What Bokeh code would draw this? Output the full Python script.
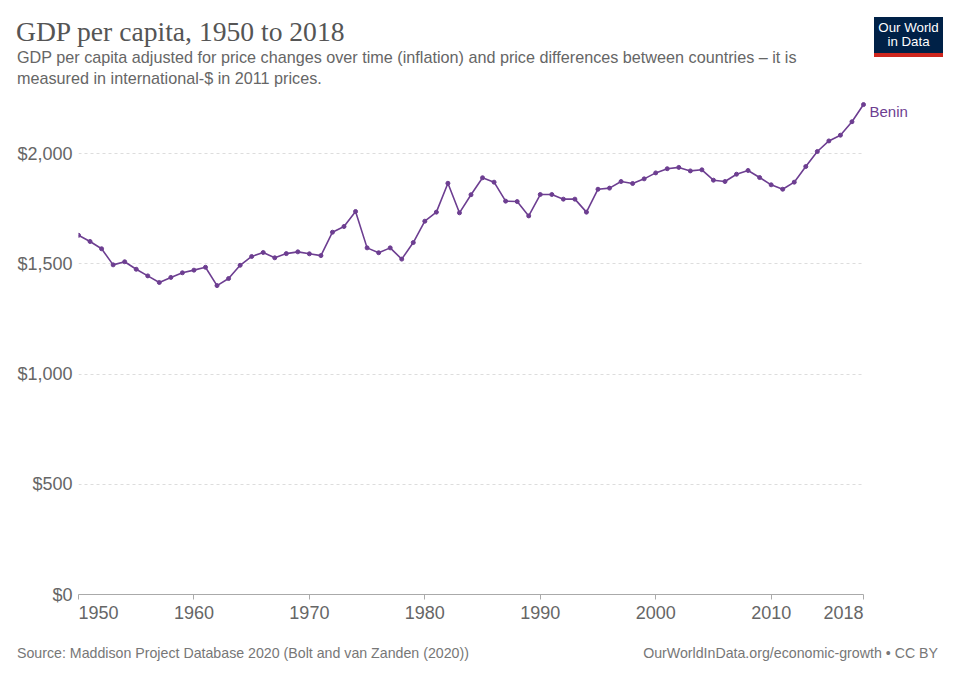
from bokeh.plotting import figure
from bokeh.layouts import column
from bokeh.models import (Range1d, FixedTicker, NumeralTickFormatter, ColumnDataSource,
                          Grid, Div)
from bokeh.core.properties import value
from bokeh.embed import file_html
from bokeh.resources import INLINE

# GDP per capita, Benin (international-$, 2011 prices)
years = list(range(1950, 2019))
gdp_pc = [
    1629, 1601, 1568, 1495, 1509, 1475, 1445, 1415, 1438, 1459,
    1471, 1484, 1401, 1433, 1493, 1533, 1551, 1527, 1546, 1554,
    1545, 1537, 1643, 1669, 1737, 1572, 1550, 1572, 1521, 1596,
    1693, 1734, 1865, 1731, 1813, 1890, 1870, 1784, 1782, 1717,
    1814, 1814, 1793, 1793, 1734, 1838, 1843, 1873, 1864, 1885,
    1912, 1931, 1937, 1921, 1926, 1879, 1873, 1906, 1923, 1891,
    1858, 1838, 1870, 1941, 2009, 2057, 2083, 2144, 2222,
]
country = "Benin"
x_ticks = [1950, 1960, 1970, 1980, 1990, 2000, 2010, 2018]
y_ticks = [0, 500, 1000, 1500, 2000]

title = "GDP per capita, 1950 to 2018"
subtitle_1 = ("GDP per capita adjusted for price changes over time (inflation) and "
              "price differences between countries \u2013 it is")
subtitle_2 = "measured in international-$ in 2011 prices."
source_note = "Source: Maddison Project Database 2020 (Bolt and van Zanden (2020))"
url_note = "OurWorldInData.org/economic-growth \u2022 CC BY"
logo_lines = ["Our World", "in Data"]

LINE = "#6d3e91"
SANS = "Liberation Sans"
W = 960
HEADER_H, FOOTER_H, TOTAL_H = 95, 40, 678
MAIN_H = TOTAL_H - HEADER_H - FOOTER_H

# main frame: years 1950..2018 span page x 78..863, $0 at page y 594
F_LEFT, F_END, F_RIGHT = 78, 863, 940
F_BOTTOM = 594
PX_PER_YEAR = (F_END - F_LEFT) / (x_ticks[-1] - x_ticks[0])
PX_PER_DOLLAR = 0.2205

# ---- header (title, subtitle, logo) ----
header_html = f"""
<div style="position:relative;width:{W}px;height:{HEADER_H}px;overflow:hidden;">
  <div style="position:absolute;left:16px;top:18px;font-family:'Liberation Serif',serif;
              font-size:27.6px;line-height:27px;color:#555555;white-space:nowrap;">{title}</div>
  <div style="position:absolute;left:17px;top:47px;font-family:'{SANS}',sans-serif;
              font-size:16.2px;line-height:21px;color:#666666;white-space:nowrap;">
    {subtitle_1}<br>{subtitle_2}</div>
  <div style="position:absolute;left:874px;top:17px;width:69px;height:36px;
              background:#002147;border-bottom:4px solid #ce261e;box-sizing:content-box;
              font-family:'{SANS}',sans-serif;font-size:13.3px;line-height:14px;color:#ffffff;
              text-align:center;">
    <div style="padding-top:4px;">{logo_lines[0]}<br>{logo_lines[1]}</div></div>
</div>
"""
head = Div(text=header_html, width=W, height=HEADER_H, margin=0)

# ---- main chart ----
x_end = x_ticks[0] + (F_RIGHT - F_LEFT) / PX_PER_YEAR
y_end = (F_BOTTOM - HEADER_H) / PX_PER_DOLLAR
p = figure(width=W, height=MAIN_H, output_backend="svg", toolbar_location=None,
           x_range=Range1d(x_ticks[0], x_end), y_range=Range1d(0, y_end),
           min_border_left=F_LEFT, min_border_right=W - F_RIGHT,
           min_border_top=0, min_border_bottom=HEADER_H + MAIN_H - F_BOTTOM,
           margin=0)
p.outline_line_color = None

nb = "\u00a0" * 8
p.xaxis.ticker = FixedTicker(ticks=x_ticks)
p.xaxis.bounds = (x_ticks[0], x_ticks[-1])
p.xaxis.major_label_overrides = {x_ticks[0]: nb + str(x_ticks[0]),
                                 x_ticks[-1]: str(x_ticks[-1]) + nb}
p.xaxis.axis_line_color = "#aaaaaa"
p.xaxis.major_tick_line_color = "#aaaaaa"
p.xaxis.major_tick_out = 5
p.xaxis.major_tick_in = 0
p.xaxis.minor_tick_line_color = None
p.xaxis.major_label_text_font = SANS
p.xaxis.major_label_text_font_size = "18px"
p.xaxis.major_label_text_color = "#666666"
p.xaxis.major_label_standoff = 3

p.yaxis.ticker = FixedTicker(ticks=y_ticks)
p.yaxis.formatter = NumeralTickFormatter(format="$0,0")
p.yaxis.axis_line_color = None
p.yaxis.major_tick_line_color = None
p.yaxis.minor_tick_line_color = None
p.yaxis.major_label_text_font = SANS
p.yaxis.major_label_text_font_size = "18px"
p.yaxis.major_label_text_color = "#666666"
p.yaxis.major_label_standoff = 0

p.xgrid.grid_line_color = None
grid_kw = dict(line_color="#dddddd", line_dash="3 3", line_width=1)
if "cross_bounds" in Grid.properties():
    p.ygrid.cross_bounds = (x_ticks[0], x_ticks[-1])
    p.ygrid.grid_line_color = grid_kw["line_color"]
    p.ygrid.grid_line_dash = grid_kw["line_dash"]
else:
    p.ygrid.grid_line_color = None
    rows = [t for t in y_ticks if t > 0]
    p.segment(x0=[x_ticks[0]] * len(rows), x1=[x_ticks[-1]] * len(rows),
              y0=rows, y1=rows, **grid_kw)

src = ColumnDataSource(dict(year=years, gdp=gdp_pc))
p.line("year", "gdp", source=src, line_color=LINE, line_width=1.6)
p.scatter("year", "gdp", source=src, size=4, fill_color=LINE, line_color=LINE)
p.text(x=[years[-1]], y=[gdp_pc[-1]], text=[country], x_offset=6, y_offset=7,
       text_font=value(SANS), text_font_size="15px", text_color=LINE,
       text_baseline="middle", text_align="left")

# ---- footer ----
footer_html = f"""
<div style="position:relative;width:{W}px;height:{FOOTER_H}px;overflow:hidden;
            font-family:'{SANS}',sans-serif;font-size:14.2px;line-height:16px;color:#777777;">
  <div style="position:absolute;left:17px;top:7px;white-space:nowrap;">{source_note}</div>
  <div style="position:absolute;right:22px;top:7px;white-space:nowrap;">{url_note}</div>
</div>
"""
foot = Div(text=footer_html, width=W, height=FOOTER_H, margin=0)

page = column(head, p, foot, spacing=0)
open("out.html", "w").write(file_html(page, INLINE))
